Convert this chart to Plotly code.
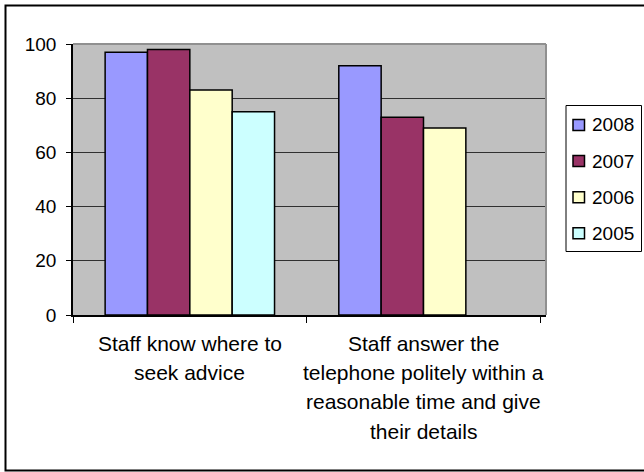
import plotly.graph_objects as go

categories = ["Staff know where to seek advice",
              "Staff answer the telephone politely within a reasonable time and give their details"]
category_lines = [["Staff know where to", "seek advice"],
                  ["Staff answer the", "telephone politely within a",
                   "reasonable time and give", "their details"]]
series_names = ["2008", "2007", "2006", "2005"]
values_2008 = [97, 92]
values_2007 = [98, 73]
values_2006 = [83, 69]
values_2005 = [75, None]
y_ticks = [0, 20, 40, 60, 80, 100]

series_values = [values_2008, values_2007, values_2006, values_2005]
colors = ["#9999FF", "#993366", "#FFFFCC", "#CCFFFF"]

W, H = 644, 472
L, R, T, B = 73, 546, 44, 315
FONT = "Arial, Liberation Sans, sans-serif"

fig = go.Figure()
for name, vals, col in zip(series_names, series_values, colors):
    fig.add_trace(go.Bar(x=categories, y=vals, name=name, showlegend=False,
                         marker=dict(color=col, line=dict(color="black", width=1.5))))

def px_x(p):
    return (p - L) / (R - L)

def px_y(p):
    return (B - p) / (B - T)

shapes = [
    dict(type="line", xref="paper", yref="paper", x0=0, x1=1, y0=1, y1=1,
         line=dict(color="#909090", width=2)),
    dict(type="line", xref="paper", yref="paper", x0=1, x1=1, y0=0, y1=1,
         line=dict(color="#909090", width=2)),
    dict(type="rect", xref="paper", yref="paper", x0=px_x(5.5), x1=px_x(660),
         y0=px_y(470.5), y1=px_y(5.5), line=dict(color="black", width=2)),
    # legend box
    dict(type="rect", xref="paper", yref="paper", x0=px_x(566), x1=px_x(641.5),
         y0=px_y(251.5), y1=px_y(105.5), line=dict(color="black", width=1),
         fillcolor="white"),
]

annotations = []
line_y = [343.3, 372.7, 401.7, 431.0]
for cat, lines in zip(categories, category_lines):
    for i, ln in enumerate(lines):
        annotations.append(dict(x=cat, xref="x", y=px_y(line_y[i]), yref="paper",
                                text=ln, showarrow=False, xanchor="center", yanchor="middle",
                                font=dict(family=FONT, size=21, color="black")))

legend_y = [125.0, 161.0, 197.3, 233.3]
for name, col, ly in zip(series_names, colors, legend_y):
    shapes.append(dict(type="rect", xref="paper", yref="paper",
                       x0=px_x(573), x1=px_x(584.5), y0=px_y(ly + 5.5), y1=px_y(ly - 5.5),
                       fillcolor=col, line=dict(color="black", width=1.5)))
    annotations.append(dict(x=px_x(590), xref="paper", y=px_y(ly), yref="paper",
                            text=name, showarrow=False, xanchor="left", yanchor="middle",
                            font=dict(family=FONT, size=19, color="black")))

fig.update_layout(
    width=W, height=H,
    margin=dict(l=L, r=W - R, t=T, b=H - B, pad=0, autoexpand=False),
    paper_bgcolor="white", plot_bgcolor="#C0C0C0",
    font=dict(family=FONT, size=19, color="black"),
    barmode="group", bargap=0.275, bargroupgap=0,
    showlegend=False,
    shapes=shapes, annotations=annotations,
)
fig.update_xaxes(showticklabels=False, ticks="outside", tickson="boundaries",
                 ticklen=6, tickcolor="black", tickwidth=1,
                 showline=True, linecolor="black", linewidth=1.5, showgrid=False)
fig.update_yaxes(range=[0, 100], tickvals=y_ticks, ticks="outside", ticklen=5,
                 tickcolor="black", tickwidth=1, showline=True, linecolor="black",
                 linewidth=1.5, showgrid=True, gridcolor="#303030", gridwidth=1,
                 zeroline=False, ticklabelstandoff=6,
                 tickfont=dict(family=FONT, size=19, color="black"))

fig.write_html("out.html", config={"displayModeBar": False},
               post_script="document.body.style.margin='0';")
